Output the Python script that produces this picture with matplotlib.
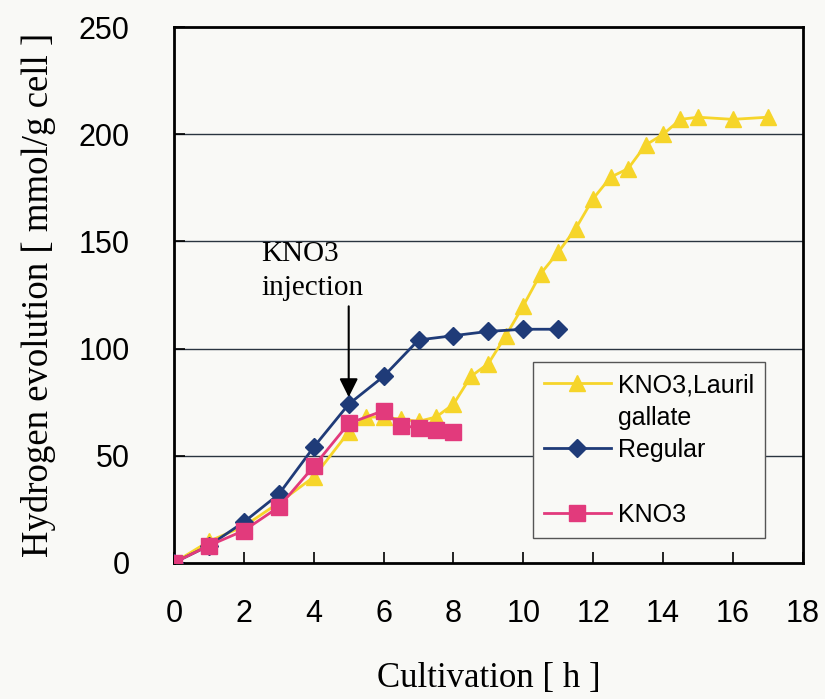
import numpy as np
import matplotlib
matplotlib.use("Agg")
import matplotlib.pyplot as plt
from matplotlib.lines import Line2D

# data
t_lauril = [0, 1, 2, 3, 4, 5, 5.5, 6, 6.5, 7, 7.5, 8, 8.5, 9, 9.5, 10, 10.5, 11,
            11.5, 12, 12.5, 13, 13.5, 14, 14.5, 15, 16, 17]
h_lauril = [0, 10, 17, 28, 40, 61, 68, 68, 67, 66, 68, 74, 87, 93, 106, 120, 135, 145,
            156, 170, 180, 184, 195, 200, 207, 208, 207, 208]

t_regular = [0, 1, 2, 3, 4, 5, 6, 7, 8, 9, 10, 11]
h_regular = [0, 8, 19, 32, 54, 74, 87, 104, 106, 108, 109, 109]

t_kno3 = [0, 1, 2, 3, 4, 5, 6, 6.5, 7, 7.5, 8]
h_kno3 = [0, 8, 15, 26, 45, 65, 71, 64, 63, 62, 61]

xticks = np.arange(0, 19, 2)
yticks = np.arange(0, 251, 50)

yellow = "#f6d52a"
navy = "#1f3b78"
pink = "#e23a7c"
bg = "#f9f9f6"

fig = plt.figure(figsize=(8.25, 6.99), dpi=100)
fig.patch.set_facecolor(bg)
ax = fig.add_axes([0.211, 0.195, 0.762, 0.766])
ax.set_facecolor(bg)

ax.plot(t_lauril, h_lauril, color=yellow, marker="^", markersize=11, lw=2, zorder=3)
ax.plot(t_regular, h_regular, color=navy, marker="D", markersize=9, lw=2, zorder=4)
ax.plot(t_kno3, h_kno3, color=pink, marker="s", markersize=12, lw=2, zorder=5)

ax.set_xlim(0, 18)
ax.set_ylim(0, 250)
ax.set_xticks(xticks)
ax.set_yticks(yticks)
for y in yticks[1:-1]:
    ax.axhline(y, color="#2a3440", lw=1, zorder=1)

for s in ax.spines.values():
    s.set_linewidth(2)
    s.set_color("black")
ax.tick_params(direction="in", length=8, width=1.2)
ax.tick_params(axis="x", pad=26)
ax.tick_params(axis="y", pad=32)
for lab in ax.get_xticklabels() + ax.get_yticklabels():
    lab.set_fontfamily("Liberation Sans")
    lab.set_fontsize(22)

ax.set_xlabel("Cultivation [ h ]", family="Liberation Serif", fontsize=25, labelpad=24)
ax.set_ylabel("Hydrogen evolution [ mmol/g cell ]", family="Liberation Serif",
              fontsize=26.5, labelpad=16)

# injection arrow
ax.annotate("", xy=(5, 76), xytext=(5, 121),
            arrowprops=dict(arrowstyle="-|>", color="black", lw=1.5, mutation_scale=28),
            zorder=6)
ax.text(2.5, 136, "KNO3\ninjection", family="Liberation Serif", fontsize=21,
        ha="left", va="center", linespacing=1.4)

blank = Line2D([], [], linestyle="none")
handles = [
    Line2D([], [], color=yellow, marker="^", markersize=11, lw=2),
    blank,
    Line2D([], [], color=navy, marker="D", markersize=9, lw=2),
    blank,
    Line2D([], [], color=pink, marker="s", markersize=12, lw=2),
]
labels = ["KNO3,Lauril", "gallate", "Regular", "", "KNO3"]
leg = ax.legend(handles, labels, loc="upper left", bbox_to_anchor=(0.571, 0.375),
                frameon=True, fancybox=False, edgecolor="#555555", facecolor=bg,
                framealpha=1, prop={"family": "Liberation Sans", "size": 18},
                handlelength=2.65, handletextpad=0.3, labelspacing=0.34,
                borderpad=0.45, borderaxespad=0)
leg.get_frame().set_linewidth(1)
leg.set_zorder(7)

fig.savefig("out.png", dpi=100, facecolor=fig.get_facecolor())
